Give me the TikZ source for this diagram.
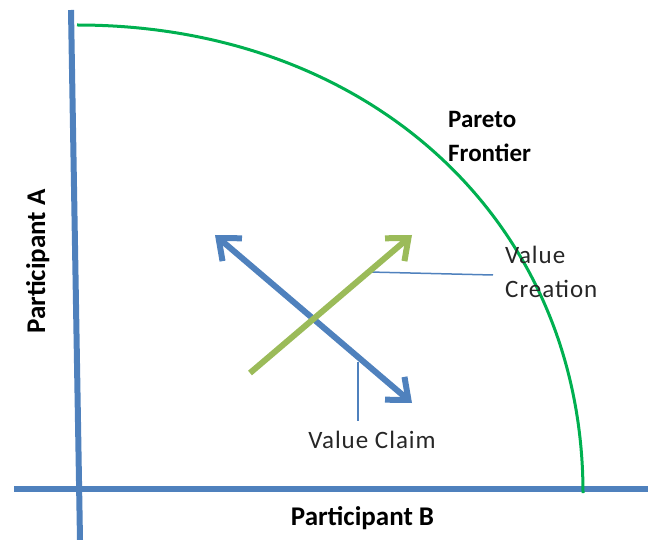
\documentclass[tikz,border=0pt]{standalone}
\usepackage{fontspec}
\setmainfont{Carlito}
\newfontfamily\spacedfont[LetterSpace=4]{Carlito}
\usetikzlibrary{arrows.meta}
\definecolor{axisblue}{HTML}{4F81BD}
\definecolor{frontiergreen}{HTML}{00B050}
\definecolor{creationgreen}{HTML}{9BBB59}
\tikzset {
    style axis/.style={
        draw=axisblue,
        line width=6pt,
    },
    style frontier/.style={
        draw=frontiergreen,
        line width=3pt,
    },
    style claim/.style={
        draw=axisblue,
        line width=6pt,
        {Straight Barb[length=18pt,width=30pt]}-{Straight Barb[length=18pt,width=30pt]},
    },
    style creation/.style={
        draw=creationgreen,
        line width=6pt,
        -{Straight Barb[length=18pt,width=30pt]},
    },
    style leader/.style={
        draw=axisblue,
        line width=1.5pt,
    },
    style plain/.style={
        inner sep=0pt,
        text=black!85,
        font=\spacedfont\fontsize{25}{34}\selectfont,
    },
    style bold/.style={
        inner sep=0pt,
        text=black,
        font=\bfseries\fontsize{25}{34}\selectfont,
    },
    style label/.style={
        inner sep=0pt,
        text=black,
        font=\bfseries\fontsize{27}{32}\selectfont,
    },
}
\begin{document}
\begin{tikzpicture}[x=1pt, y=-1pt]
\useasboundingbox (0,0) rectangle (648,540);

% axes
\coordinate (yTop) at (71,10);
\coordinate (yBottom) at (80,540);
\coordinate (xLeft) at (14,489);
\coordinate (xRight) at (648,489);
\draw[style axis] (yTop) -- (yBottom);
\draw[style axis] (xLeft) -- (xRight);

% pareto frontier
\coordinate (fTop) at (77,25);
\coordinate (fBottom) at (583,493);
\draw[style frontier] (fTop) .. controls (370.5,25) and (583,221.6) .. (fBottom);

% labels (base = last line)
\node[style bold, anchor=base west, align=left] (pareto) at (448,162) {Pareto\\Frontier};
\node[style plain, anchor=base west, align=left] (creation) at (505,298) {Value\\Creation};
\node[style plain, anchor=base] (claim) at (372,448) {Value Claim};
\node[style label, anchor=base] (partB) at (362.5,525) {Participant B};
\node[style label, anchor=base, rotate=90] (partA) at (45,261.5) {Participant A};

% leaders
\coordinate (creationFoot) at (369,272);
\coordinate (creationEnd) at (493,275);
\coordinate (claimFoot) at (358,362);
\coordinate (claimEnd) at (358,421);
\draw[style leader] (creationFoot) -- (creationEnd);
\draw[style leader] (claimFoot) -- (claimEnd);

% arrows
\coordinate (claimA) at (215,235);
\coordinate (claimB) at (412,403);
\coordinate (creationA) at (250,373);
\coordinate (creationB) at (412,235);
\draw[style claim] (claimA) -- (claimB);
\draw[style creation] (creationA) -- (creationB);
\end{tikzpicture}
\end{document}
